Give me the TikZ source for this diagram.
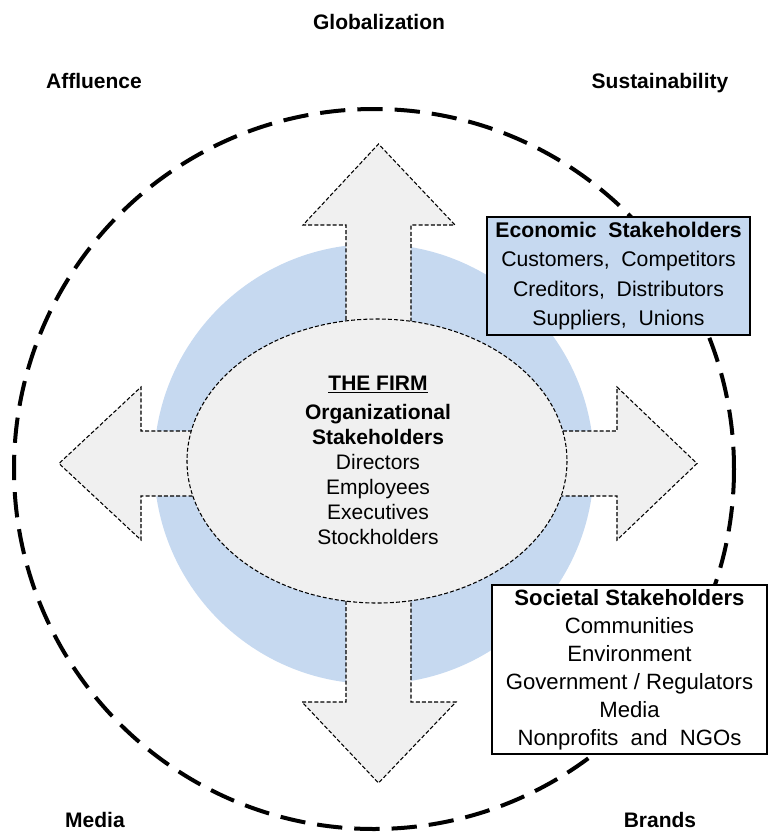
\documentclass[tikz,border=0pt]{standalone}
\usepackage{fontspec}
\setmainfont{Liberation Sans}
\usepackage{tikz}
\tikzset{every picture/.style={line width=0.75pt}}
\definecolor{ringblue}{RGB}{198,217,240}
\definecolor{arrowgray}{RGB}{240,240,240}
\tikzset{
  bigarrow/.style={fill=arrowgray, draw=black, line width=0.8pt, dash pattern=on 3pt off 1.6pt},
  outerlabel/.style={inner sep=0.75pt, anchor=base, font=\fontsize{15.75}{18}\selectfont\bfseries},
  stakebox/.style={inner sep=0pt, align=center}
}

\begin{document}
\begin{tikzpicture}[x=0.75pt,y=0.75pt,yscale=-1,xscale=1]
\useasboundingbox (0,0) rectangle (769,833);

%Shape: Circle (outer dashed ring)
\draw [line width=3pt, dash pattern=on 19pt off 9pt] (374,469) circle [radius=360];
%Shape: Circle (blue ring)
\fill [ringblue] (374,464) circle [radius=220];

%Shape: Up Arrow
\draw [bigarrow] (346,461) -- (346,225) -- (303,225) -- (378.5,144) -- (455,225) -- (411,225) -- (411,461) ;
%Shape: Down Arrow
\draw [bigarrow] (346,466) -- (346,702) -- (302,702) -- (378.5,783) -- (456,702) -- (411,702) -- (411,466) ;
%Shape: Left Arrow
\draw [bigarrow] (370,431) -- (141,431) -- (141,387) -- (59,463.5) -- (141,540) -- (141,496) -- (370,496) ;
%Shape: Right Arrow
\draw [bigarrow] (385,431) -- (617,431) -- (617,387) -- (697,463.5) -- (617,540) -- (617,496) -- (385,496) ;

%Shape: Ellipse (the firm)
\draw [fill=arrowgray, line width=0.8pt, dash pattern=on 3pt off 1.6pt] (377,461) ellipse [x radius=190, y radius=142];

% Text Node
\draw (378,460) node (firm) [inner sep=0pt] [align=center] [font=\fontsize{15.75}{18.75}\selectfont] {\textbf{\underline{THE FIRM}}\\[3pt] \textbf{Organizational}\\ \textbf{Stakeholders}\\ Directors\\ Employees\\ Executives\\ Stockholders};

% Text Node (economic box)
\draw (618.5,276) node (econ) [stakebox] [font=\fontsize{15.9}{22}\selectfont] [draw=black, line width=1.6pt, fill=ringblue, minimum width=197.25pt, minimum height=88.5pt] {\textbf{Economic~ Stakeholders}\\ Customers,~ Competitors\\ Creditors,~ Distributors\\ Suppliers,~ Unions};
% Text Node (societal box)
\draw (629.5,669.5) node (soc) [stakebox] [font=\fontsize{16.6}{21}\selectfont] [draw=black, line width=1.1pt, fill=white, minimum width=206.25pt, minimum height=126.75pt] {\textbf{Societal Stakeholders}\\ Communities\\ Environment\\ Government / Regulators\\ Media\\ Nonprofits~ and~ NGOs};

% Text Node
\draw (379,29) node (glob) [outerlabel] {Globalization};
% Text Node
\draw (94,88) node (affl) [outerlabel] {Affluence};
% Text Node
\draw (660,88) node (sust) [outerlabel] {Sustainability};
% Text Node
\draw (95,827) node (media) [outerlabel] {Media};
% Text Node
\draw (660,827) node (brands) [outerlabel] {Brands};

\end{tikzpicture}
\end{document}
